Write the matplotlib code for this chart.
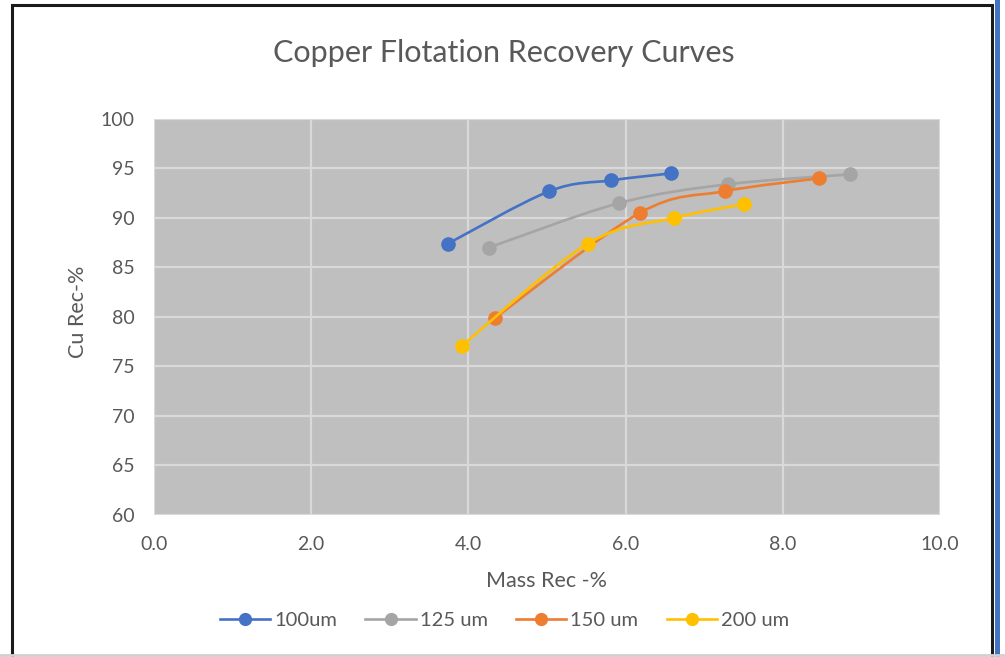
import matplotlib.pyplot as plt
from matplotlib.path import Path
from matplotlib.patches import PathPatch, Rectangle
from matplotlib.lines import Line2D

# mass recovery (%) vs copper recovery (%) per grind size
mass_100 = [3.74, 5.03, 5.82, 6.58]
cu_100 = [87.4, 92.7, 93.8, 94.5]
mass_125 = [4.26, 5.92, 7.30, 8.85]
cu_125 = [87.0, 91.5, 93.4, 94.4]
mass_150 = [4.34, 6.18, 7.26, 8.46]
cu_150 = [79.9, 90.5, 92.7, 94.0]
mass_200 = [3.92, 5.52, 6.62, 7.51]
cu_200 = [77.1, 87.4, 90.0, 91.4]

series_names = ['100um', '125 um', '150 um', '200 um']
colors = ['#4472C4', '#A5A5A5', '#ED7D31', '#FFC000']

FONT = 'Lato'
TXT = '#595959'


def smooth_path(xs, ys):
    # cubic bezier through the points, like a spreadsheet "smoothed line"
    pts = list(zip(xs, ys))
    ext = [pts[0]] + pts + [pts[-1]]
    verts = [pts[0]]
    codes = [Path.MOVETO]
    for i in range(1, len(ext) - 2):
        p0, p1, p2, p3 = ext[i - 1], ext[i], ext[i + 1], ext[i + 2]
        c1 = (p1[0] + (p2[0] - p0[0]) / 6, p1[1] + (p2[1] - p0[1]) / 6)
        c2 = (p2[0] - (p3[0] - p1[0]) / 6, p2[1] - (p3[1] - p1[1]) / 6)
        verts += [c1, c2, p2]
        codes += [Path.CURVE4] * 3
    return Path(verts, codes)


fig = plt.figure(figsize=(10.05, 6.57), dpi=100)
ax = fig.add_axes([0.1532, 0.2166, 0.7821, 0.6023])
ax.set_facecolor('#BFBFBF')

data = [(mass_100, cu_100), (mass_125, cu_125), (mass_150, cu_150), (mass_200, cu_200)]
for k, (xs, ys) in enumerate(data):
    ax.add_patch(PathPatch(smooth_path(xs, ys), fill=False, edgecolor=colors[k],
                           lw=1.9, zorder=3 + k, capstyle='round'))
    ax.plot(xs, ys, 'o', color=colors[k], ms=9.5, zorder=3 + k)

ax.set_xlim(0, 10)
ax.set_ylim(60, 100)
ax.set_xticks([0, 2, 4, 6, 8, 10])
ax.set_xticklabels(['0.0', '2.0', '4.0', '6.0', '8.0', '10.0'])
ax.set_yticks(range(60, 101, 5))
ax.grid(True, color='#D9D9D9', lw=1.6)
ax.set_axisbelow(True)
for s in ax.spines.values():
    s.set_visible(False)
ax.tick_params(length=0, labelsize=14, labelcolor=TXT)
ax.tick_params(axis='y', pad=14)
ax.tick_params(axis='x', pad=15)
for lab in ax.get_xticklabels() + ax.get_yticklabels():
    lab.set_fontfamily(FONT)

ax.set_xlabel('Mass Rec -%', fontsize=15.5, color=TXT, family=FONT, va='baseline')
ax.xaxis.set_label_coords(0.5, -0.1827)
ax.set_ylabel('Cu Rec-%', fontsize=15.5, color=TXT, family=FONT, va='center', ha='center')
ax.yaxis.set_label_coords(-0.097, 0.512)

fig.text(0.501, 0.9056, 'Copper Flotation Recovery Curves', ha='center', va='baseline',
         fontsize=22, color=TXT, family=FONT)

handles = [Line2D([], [], color=c, lw=1.9, marker='o', ms=8.5) for c in colors]
fig.legend(handles, series_names, loc='center', bbox_to_anchor=(0.502, 0.0563),
           ncol=4, frameon=False, handlelength=2.5, handletextpad=0.2,
           columnspacing=1.4, prop={'family': FONT, 'size': 14.5}, labelcolor=TXT)

# outer frame
fig.patches.append(Rectangle((12 / 1005, -0.01), 980 / 1005, 1 - 5 / 657 + 0.01,
                             transform=fig.transFigure, fill=False,
                             edgecolor='#1A1A1A', lw=2.2))
fig.patches.append(Rectangle((995 / 1005, 0), 5 / 1005, 1, transform=fig.transFigure,
                             color='#4472C4', lw=0))
fig.lines.append(Line2D([0, 1], [2 / 657, 2 / 657], transform=fig.transFigure,
                        color='#D0D0D0', lw=2))

fig.savefig('out.png', dpi=100)
